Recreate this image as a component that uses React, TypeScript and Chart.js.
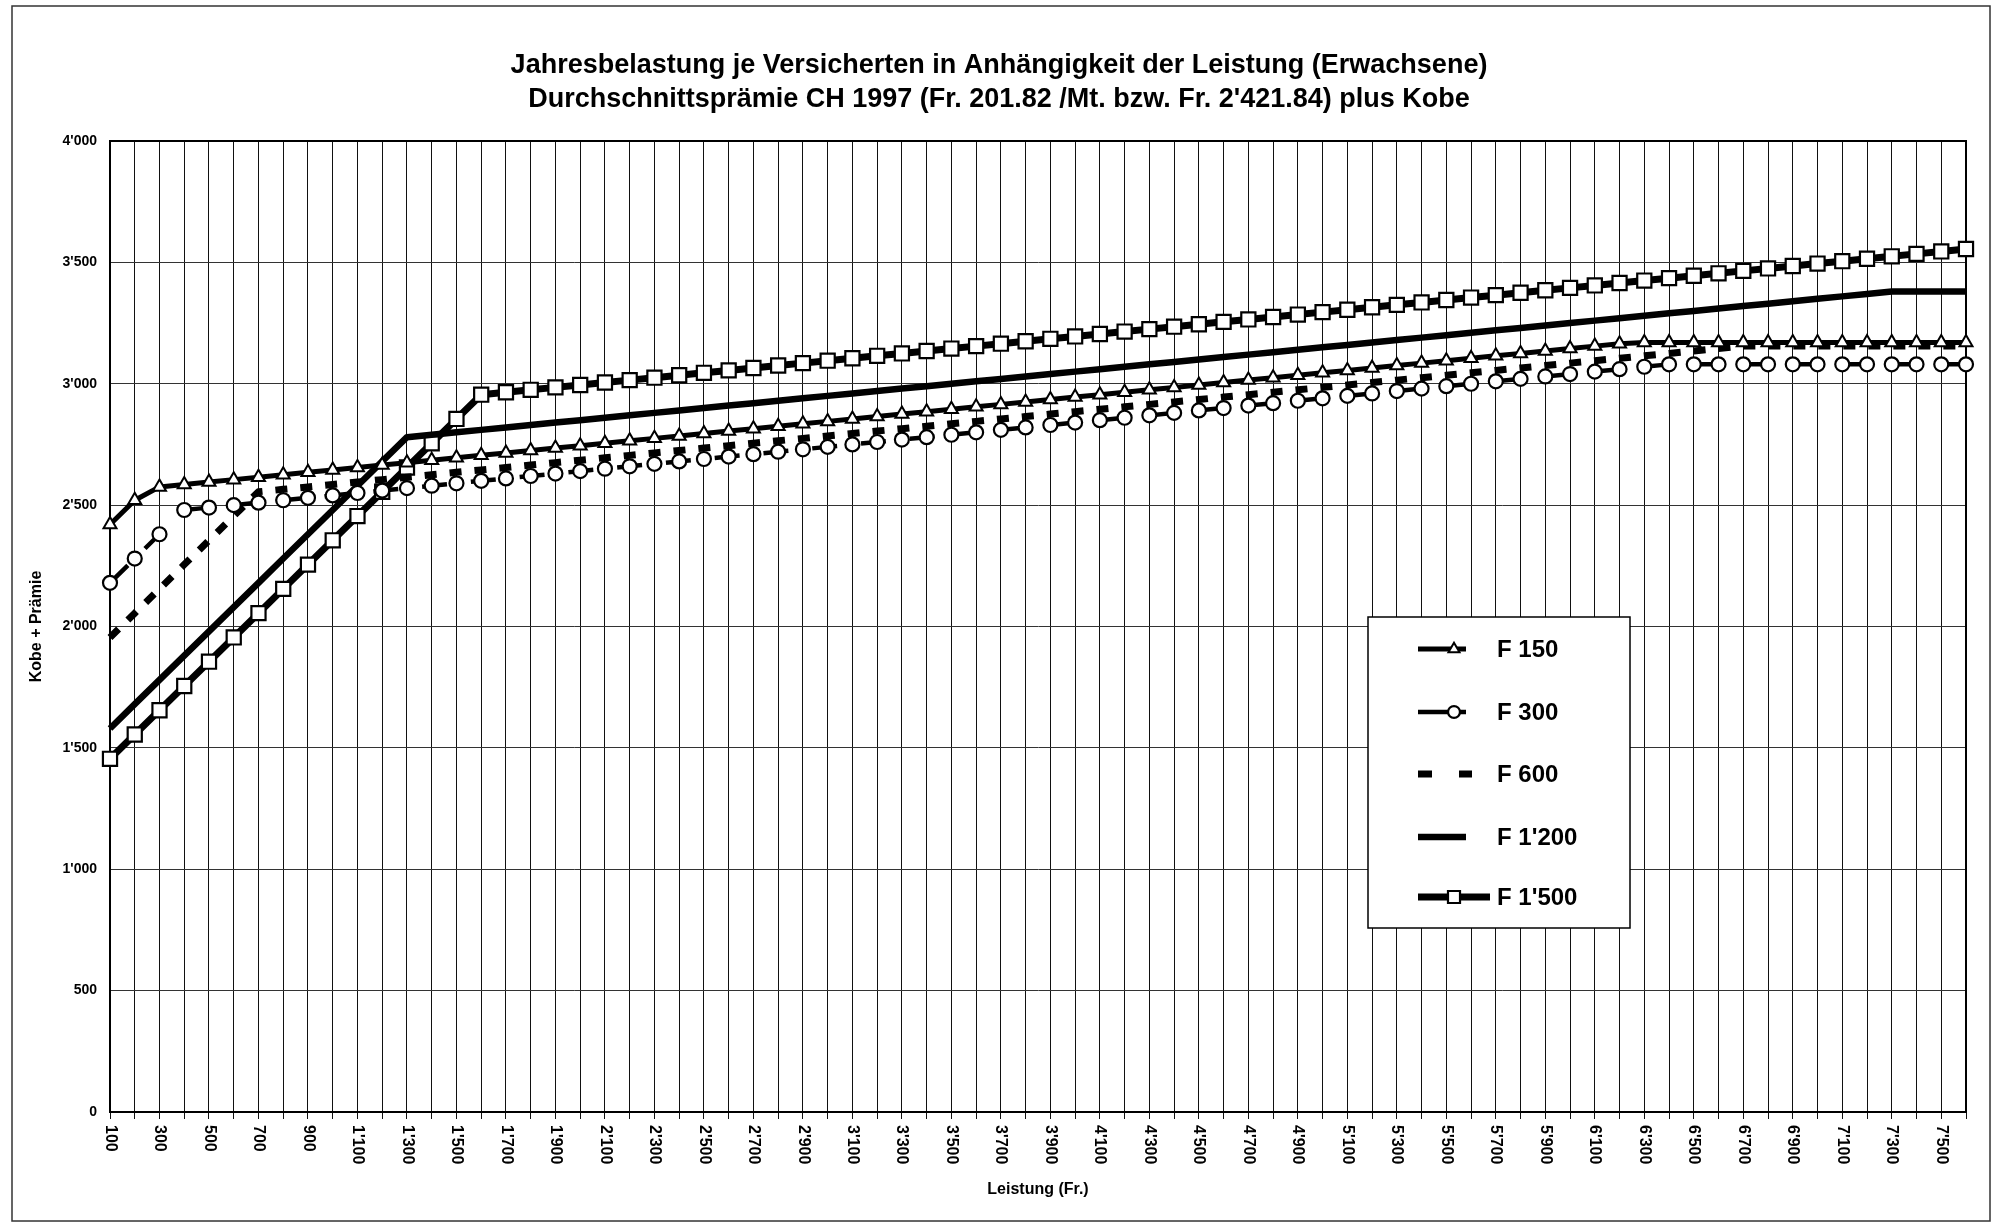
import React, { useEffect, useRef } from "react";
import { Chart, registerables } from "chart.js";

Chart.register(...registerables);

const FONT = "'Liberation Sans', Arial, Helvetica, sans-serif";

// Leistung (Fr.) – one category every 100 francs
const leistung = [
  100, 200, 300, 400, 500, 600, 700, 800, 900, 1000,
  1100, 1200, 1300, 1400, 1500, 1600, 1700, 1800, 1900, 2000,
  2100, 2200, 2300, 2400, 2500, 2600, 2700, 2800, 2900, 3000,
  3100, 3200, 3300, 3400, 3500, 3600, 3700, 3800, 3900, 4000,
  4100, 4200, 4300, 4400, 4500, 4600, 4700, 4800, 4900, 5000,
  5100, 5200, 5300, 5400, 5500, 5600, 5700, 5800, 5900, 6000,
  6100, 6200, 6300, 6400, 6500, 6600, 6700, 6800, 6900, 7000,
  7100, 7200, 7300, 7400, 7500, 7600,
];

// Kobe + Prämie per franchise level
const f150 = [
  2420, 2520, 2575, 2585, 2595, 2605, 2615, 2625, 2635, 2645,
  2655, 2665, 2675, 2685, 2695, 2705, 2715, 2725, 2735, 2745,
  2755, 2765, 2775, 2785, 2795, 2805, 2815, 2825, 2835, 2845,
  2855, 2865, 2875, 2885, 2895, 2905, 2915, 2925, 2935, 2945,
  2955, 2965, 2975, 2985, 2995, 3005, 3015, 3025, 3035, 3045,
  3055, 3065, 3075, 3085, 3095, 3105, 3115, 3125, 3135, 3145,
  3155, 3165, 3170, 3170, 3170, 3170, 3170, 3170, 3170, 3170,
  3170, 3170, 3170, 3170, 3170, 3170,
];

const f300 = [
  2180, 2280, 2380, 2480, 2490, 2500, 2510, 2520, 2530, 2540,
  2550, 2560, 2570, 2580, 2590, 2600, 2610, 2620, 2630, 2640,
  2650, 2660, 2670, 2680, 2690, 2700, 2710, 2720, 2730, 2740,
  2750, 2760, 2770, 2780, 2790, 2800, 2810, 2820, 2830, 2840,
  2850, 2860, 2870, 2880, 2890, 2900, 2910, 2920, 2930, 2940,
  2950, 2960, 2970, 2980, 2990, 3000, 3010, 3020, 3030, 3040,
  3050, 3060, 3070, 3080, 3080, 3080, 3080, 3080, 3080, 3080,
  3080, 3080, 3080, 3080, 3080, 3080,
];

const f600 = [
  1955, 2055, 2155, 2255, 2355, 2455, 2555, 2565, 2575, 2585,
  2595, 2605, 2615, 2625, 2635, 2645, 2655, 2665, 2675, 2685,
  2695, 2705, 2715, 2725, 2735, 2745, 2755, 2765, 2775, 2785,
  2795, 2805, 2815, 2825, 2835, 2845, 2855, 2865, 2875, 2885,
  2895, 2905, 2915, 2925, 2935, 2945, 2955, 2965, 2975, 2985,
  2995, 3005, 3015, 3025, 3035, 3045, 3055, 3065, 3075, 3085,
  3095, 3105, 3115, 3125, 3135, 3145, 3155, 3155, 3155, 3155,
  3155, 3155, 3155, 3155, 3155, 3155,
];

const f1200 = [
  1580, 1680, 1780, 1880, 1980, 2080, 2180, 2280, 2380, 2480,
  2580, 2680, 2780, 2790, 2800, 2810, 2820, 2830, 2840, 2850,
  2860, 2870, 2880, 2890, 2900, 2910, 2920, 2930, 2940, 2950,
  2960, 2970, 2980, 2990, 3000, 3010, 3020, 3030, 3040, 3050,
  3060, 3070, 3080, 3090, 3100, 3110, 3120, 3130, 3140, 3150,
  3160, 3170, 3180, 3190, 3200, 3210, 3220, 3230, 3240, 3250,
  3260, 3270, 3280, 3290, 3300, 3310, 3320, 3330, 3340, 3350,
  3360, 3370, 3380, 3380, 3380, 3380,
];

const f1500 = [
  1455, 1555, 1655, 1755, 1855, 1955, 2055, 2155, 2255, 2355,
  2455, 2555, 2655, 2755, 2855, 2955, 2965, 2975, 2985, 2995,
  3005, 3015, 3025, 3035, 3045, 3055, 3065, 3075, 3085, 3095,
  3105, 3115, 3125, 3135, 3145, 3155, 3165, 3175, 3185, 3195,
  3205, 3215, 3225, 3235, 3245, 3255, 3265, 3275, 3285, 3295,
  3305, 3315, 3325, 3335, 3345, 3355, 3365, 3375, 3385, 3395,
  3405, 3415, 3425, 3435, 3445, 3455, 3465, 3475, 3485, 3495,
  3505, 3515, 3525, 3535, 3545, 3555,
];

const seriesNames = ["F 150", "F 300", "F 600", "F 1'200", "F 1'500"];

const titleLines = [
  "Jahresbelastung je Versicherten in Anhängigkeit der Leistung (Erwachsene)",
  "Durchschnittsprämie CH 1997 (Fr. 201.82 /Mt. bzw. Fr. 2'421.84) plus Kobe",
];

const xTitle = "Leistung (Fr.)";
const yTitle = "Kobe + Prämie";

// Swiss thousands separator: 2500 -> 2'500
function swiss(n: number): string {
  const s = String(n);
  return s.length > 3 ? s.slice(0, -3) + "'" + s.slice(-3) : s;
}

function marker(ctx: CanvasRenderingContext2D, style: string, x: number, y: number, r: number, bw: number) {
  if (!style || r <= 0) return;
  ctx.save();
  ctx.setLineDash([]);
  ctx.beginPath();
  if (style === "circle") {
    ctx.arc(x, y, r, 0, Math.PI * 2);
  } else if (style === "rect") {
    const h = r * Math.SQRT1_2;
    ctx.rect(x - h, y - h, 2 * h, 2 * h);
  } else if (style === "triangle") {
    for (let k = 0; k < 3; k++) {
      const a = (k * 2 * Math.PI) / 3;
      const px = x + Math.sin(a) * r;
      const py = y - Math.cos(a) * r;
      if (k === 0) ctx.moveTo(px, py);
      else ctx.lineTo(px, py);
    }
    ctx.closePath();
  }
  ctx.fillStyle = "#fff";
  ctx.fill();
  ctx.lineWidth = bw;
  ctx.strokeStyle = "#000";
  ctx.stroke();
  ctx.restore();
}

// legend samples: line dash and length per series
const legendDash = [[], [], [14, 27], [], []];
const legendLineEnd = [1466, 1466, 1472, 1466, 1490];

const decor = {
  id: "decor",
  beforeDatasetsDraw(chart: any) {
    const { ctx, chartArea: a } = chart;
    ctx.save();
    ctx.strokeStyle = "#000";
    ctx.lineWidth = 2;
    ctx.strokeRect(a.left, a.top, a.right - a.left, a.bottom - a.top);
    ctx.restore();
  },
  afterDraw(chart: any) {
    const { ctx, chartArea: a } = chart;
    const xs = chart.scales.x;
    ctx.save();

    // category labels, rotated clockwise
    ctx.fillStyle = "#000";
    ctx.font = `bold 16px ${FONT}`;
    ctx.textAlign = "left";
    ctx.textBaseline = "middle";
    leistung.forEach((v, i) => {
      if (i % 2 !== 0) return;
      const px = xs.getPixelForValue(i);
      ctx.save();
      ctx.translate(px, a.bottom + 13);
      ctx.rotate(Math.PI / 2);
      ctx.fillText(swiss(v), 0, 0);
      ctx.restore();
    });

    // two-line heading
    ctx.font = `bold 27px ${FONT}`;
    ctx.textAlign = "center";
    ctx.textBaseline = "middle";
    ctx.fillText(titleLines[0], 999, 66);
    ctx.fillText(titleLines[1], 999, 100);

    // legend box
    const bx = 1368, by = 617, bw = 262, bh = 311;
    ctx.fillStyle = "#fff";
    ctx.fillRect(bx, by, bw, bh);
    ctx.strokeStyle = "#000";
    ctx.lineWidth = 1.5;
    ctx.strokeRect(bx, by, bw, bh);
    const rows = [649, 712, 774, 837, 897];
    chart.data.datasets.forEach((ds: any, i: number) => {
      const y = rows[i];
      ctx.save();
      ctx.strokeStyle = "#000";
      ctx.lineWidth = ds.borderWidth;
      ctx.setLineDash(legendDash[i]);
      ctx.beginPath();
      ctx.moveTo(1418, y);
      ctx.lineTo(legendLineEnd[i], y);
      ctx.stroke();
      ctx.restore();
      if (ds.pointRadius > 0) {
        marker(ctx, ds.pointStyle, 1454, y, ds.pointRadius * 0.85, ds.pointBorderWidth);
      }
      ctx.fillStyle = "#000";
      ctx.font = `bold 24px ${FONT}`;
      ctx.textAlign = "left";
      ctx.textBaseline = "middle";
      ctx.fillText(ds.label, 1497, y + 1);
    });

    // outer frame
    ctx.strokeStyle = "#333";
    ctx.lineWidth = 1.5;
    ctx.strokeRect(12, 6, 1978, 1215);
    ctx.restore();
  },
};

export default function App() {
  const ref = useRef<HTMLCanvasElement>(null);

  useEffect(() => {
    const canvas = ref.current;
    if (!canvas) return;
    const common = {
      borderColor: "#000",
      pointBackgroundColor: "#fff",
      pointBorderColor: "#000",
      tension: 0,
      clip: false as const,
      borderJoinStyle: "round" as const,
    };
    const chart = new Chart(canvas, {
      type: "line",
      data: {
        labels: leistung,
        datasets: [
          { ...common, label: seriesNames[0], data: f150, borderWidth: 5, pointStyle: "triangle", pointRadius: 7.5, pointBorderWidth: 2 },
          { ...common, label: seriesNames[1], data: f300, borderWidth: 4.5, borderDash: [25, 24], pointStyle: "circle", pointRadius: 7, pointBorderWidth: 2.2 },
          { ...common, label: seriesNames[2], data: f600, borderWidth: 7, borderDash: [12, 13], pointRadius: 0 },
          { ...common, label: seriesNames[3], data: f1200, borderWidth: 6.5, pointRadius: 0 },
          { ...common, label: seriesNames[4], data: f1500, borderWidth: 7, pointStyle: "rect", pointRadius: 10, pointBorderWidth: 2.2 },
        ],
      },
      options: {
        responsive: false,
        animation: false,
        devicePixelRatio: 1,
        layout: { padding: { left: 0, top: 141, right: 32, bottom: 0 } },
        plugins: {
          legend: { display: false },
          title: { display: false },
          tooltip: { enabled: false },
        },
        scales: {
          x: {
            type: "category",
            offset: false,
            grid: { color: "#111", lineWidth: 1, drawTicks: true, tickLength: 7, tickColor: "#111" },
            border: { display: true, color: "#000", width: 2 },
            ticks: { display: false },
            title: {
              display: true,
              text: xTitle,
              color: "#000",
              font: { family: FONT, size: 16, weight: "bold" },
              padding: { top: 0, bottom: 27 },
            },
            afterFit: (s: any) => {
              s.height = 114;
            },
          },
          y: {
            min: 0,
            max: 4000,
            grid: { color: "#333", lineWidth: 1, drawTicks: false, borderDash: [14, 3, 3, 3] } as any,
            border: { display: true, color: "#000", width: 2 },
            ticks: {
              stepSize: 500,
              padding: 13,
              color: "#000",
              font: { family: FONT, size: 14, weight: "bold" },
              callback: (v: any) => swiss(Number(v)),
            },
            title: {
              display: true,
              text: yTitle,
              color: "#000",
              font: { family: FONT, size: 16, weight: "bold" },
              padding: { top: 27, bottom: 0 },
            },
            afterFit: (s: any) => {
              s.width = 110;
            },
          },
        },
      },
      plugins: [decor],
    });
    return () => chart.destroy();
  }, []);

  return (
    <div style={{ position: "fixed", left: 0, top: 0, width: 1998, height: 1226, background: "#fff" }}>
      <canvas ref={ref} width={1998} height={1226} style={{ display: "block", width: 1998, height: 1226 }} />
    </div>
  );
}
